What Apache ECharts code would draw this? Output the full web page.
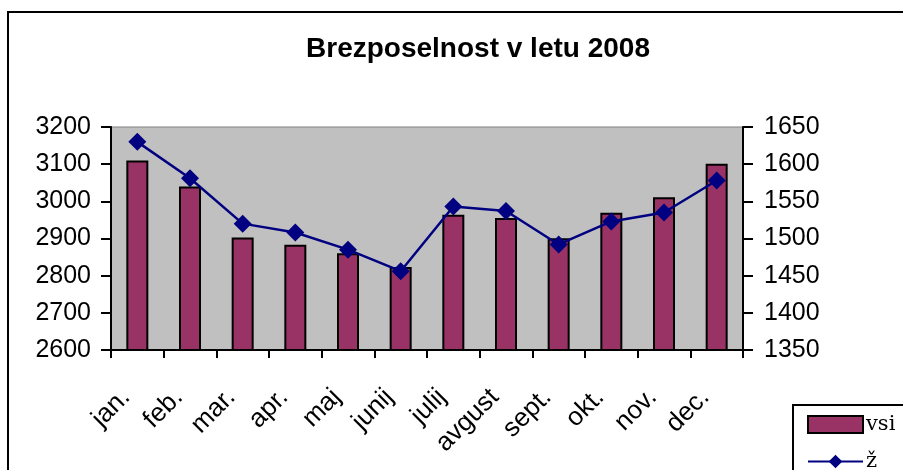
<!DOCTYPE html>
<html><head><meta charset="utf-8">
<script src="https://cdn.jsdelivr.net/npm/echarts@6/dist/echarts.min.js"></script>
<style>html,body{margin:0;padding:0;background:#fff}#c{width:903px;height:470px}</style>
</head><body><div id="c"></div>
<script>
const categories = ['jan.','feb.','mar.','apr.','maj','junij','julij','avgust','sept.','okt.','nov.','dec.'];
const vsi = [3110, 3040, 2903, 2883, 2860, 2823, 2964, 2955, 2901, 2969, 3011, 3101];
const z = [1630, 1581, 1520, 1508, 1485, 1456, 1543, 1537, 1492, 1523, 1535, 1578];
const leftTicks = {min: 2600, max: 3200, interval: 100};
const rightTicks = {min: 1350, max: 1650, interval: 50};

const chart = echarts.init(document.getElementById('c'), null, {renderer: 'canvas'});
const axisFont = {fontFamily: 'Liberation Sans, Arial, sans-serif', fontSize: 25, color: '#000'};
chart.setOption({
  animation: false,
  backgroundColor: '#fff',
  title: {
    text: 'Brezposelnost v letu 2008',
    left: 473, top: 30, textAlign: 'center',
    textStyle: {fontFamily: 'Liberation Sans, Arial, sans-serif', fontSize: 28, fontWeight: 'bold', color: '#000'}
  },
  graphic: [{
    type: 'rect', shape: {x: 8, y: 12, width: 920, height: 480},
    style: {fill: 'none', stroke: '#000', lineWidth: 2}, z: 100
  }],
  grid: {
    left: 111, right: 160, top: 127, bottom: 120,
    show: true, backgroundColor: '#c0c0c0', borderColor: '#808080', borderWidth: 1
  },
  legend: {
    orient: 'vertical', left: 793, top: 405, height: 120,
    padding: [9, 60, 30, 14], itemGap: 16, itemWidth: 55, itemHeight: 17,
    borderColor: '#000', borderWidth: 2, backgroundColor: '#fff',
    textStyle: {fontFamily: 'DejaVu Serif, serif', fontSize: 21, color: '#000', padding: [0,0,0,-2]},
    data: [{name: 'vsi', icon: 'rect'}, {name: 'ž'}]
  },
  xAxis: {
    type: 'category', data: categories, boundaryGap: true,
    axisLine: {lineStyle: {color: '#000', width: 2}},
    axisTick: {show: true, alignWithLabel: false, length: 8, lineStyle: {color: '#000', width: 2}},
    axisLabel: Object.assign({rotate: 45, margin: 32, interval: 0, padding: [0, 16, 0, 0]}, axisFont, {fontSize: 26}),
    splitLine: {show: false}
  },
  yAxis: [{
    type: 'value', position: 'left', min: leftTicks.min, max: leftTicks.max, interval: leftTicks.interval,
    axisLine: {show: true, lineStyle: {color: '#000', width: 2}},
    axisTick: {show: true, length: 10, lineStyle: {color: '#000', width: 2}},
    axisLabel: Object.assign({margin: 20, formatter: v => String(v)}, axisFont),
    splitLine: {show: false}
  }, {
    type: 'value', position: 'right', min: rightTicks.min, max: rightTicks.max, interval: rightTicks.interval,
    axisLine: {show: true, lineStyle: {color: '#000', width: 2}},
    axisTick: {show: true, length: 10, lineStyle: {color: '#000', width: 2}},
    axisLabel: Object.assign({margin: 21, formatter: v => String(v)}, axisFont),
    splitLine: {show: false}
  }],
  series: [{
    name: 'vsi', type: 'bar', yAxisIndex: 0, data: vsi, barWidth: 22,
    itemStyle: {color: '#993366', borderColor: '#000', borderWidth: 2}
  }, {
    name: 'ž', type: 'line', yAxisIndex: 1, data: z,
    lineStyle: {color: '#000080', width: 2.5}, itemStyle: {color: '#000080'},
    symbol: 'diamond', symbolSize: 18, showSymbol: true
  }]
});
</script></body></html>
